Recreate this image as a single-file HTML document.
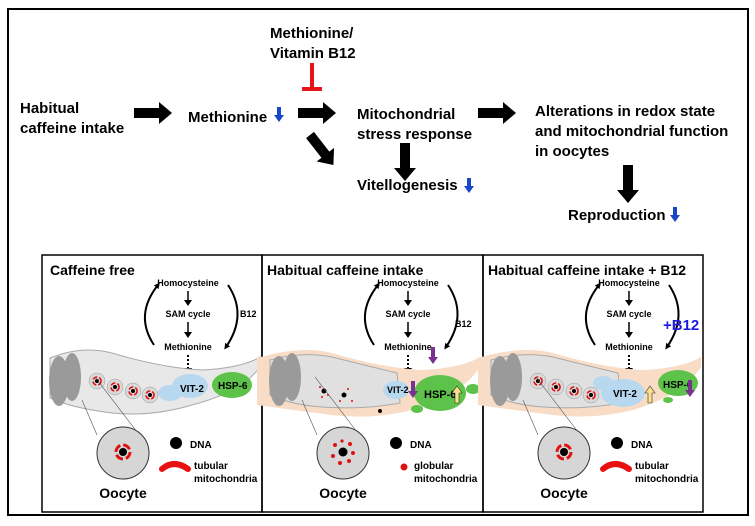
<!DOCTYPE html>
<html><head><style>
body{margin:0;background:#fff}
svg{display:block;font-family:"Liberation Sans",Arial,sans-serif;font-weight:bold}
</style></head><body>
<svg width="755" height="526" viewBox="0 0 755 526" xmlns="http://www.w3.org/2000/svg">
<defs>
<marker id="ah" markerWidth="6" markerHeight="6" refX="3" refY="3" orient="auto" markerUnits="userSpaceOnUse"><path d="M0,0L6,3L0,6z" fill="#000"/></marker>
<g id="fat">
<path d="M0,-5H25V-11L38,0L25,11V5H0z" fill="#000"/>
</g>
<g id="cycle">
<text x="146" y="31" font-size="9" text-anchor="middle">Homocysteine</text>
<text x="146" y="62" font-size="9" text-anchor="middle">SAM cycle</text>
<text x="146" y="95" font-size="9" text-anchor="middle">Methionine</text>
<path d="M146,36V46M146,67V78" stroke="#000" stroke-width="1.5"/>
<path d="M142,45L146,51L150,45zM142,77L146,83L150,77z" fill="#000"/>
<path d="M112,90 Q92,60 116,30" fill="none" stroke="#000" stroke-width="2" marker-end="url(#ah)"/>
<path d="M186,30 Q206,60 184,92" fill="none" stroke="#000" stroke-width="2" marker-end="url(#ah)"/>
<path d="M146,100V114" stroke="#000" stroke-width="2" stroke-dasharray="2,2"/>
<path d="M142,113L146,119L150,113z" fill="#000"/>
</g>
<g id="cell">
<circle cx="0" cy="0" r="8" fill="#d8d8d8" stroke="#999" stroke-width="0.5"/>
<circle cx="0" cy="0" r="2" fill="#000"/>
</g>
<g id="oocyte">
<line x1="40" y1="145" x2="55" y2="180" stroke="#555" stroke-width="0.6"/>
<line x1="53" y1="122" x2="105" y2="190" stroke="#555" stroke-width="0.6"/>
<circle cx="81" cy="198" r="26" fill="#d6d6d6" stroke="#333" stroke-width="1"/>
<text x="81" y="243" font-size="14" text-anchor="middle">Oocyte</text>
<circle cx="134" cy="188" r="6" fill="#000"/>
<text x="148" y="193" font-size="10">DNA</text>
</g>
</defs>

<rect x="8" y="9" width="740" height="506" fill="none" stroke="#000" stroke-width="2"/>

<g font-size="15">
<text x="20" y="113">Habitual</text>
<text x="20" y="133">caffeine intake</text>
<text x="188" y="122">Methionine</text>
<text x="270" y="38">Methionine/</text>
<text x="270" y="58">Vitamin B12</text>
<text x="357" y="119">Mitochondrial</text>
<text x="357" y="139">stress response</text>
<text x="357" y="190">Vitellogenesis</text>
<text x="535" y="116">Alterations in redox state</text>
<text x="535" y="136">and mitochondrial function</text>
<text x="535" y="156">in oocytes</text>
<text x="568" y="220">Reproduction</text>
</g>
<g fill="#1946c8">
<path d="M277,107h4v8h3l-5,7l-5,-7h3z"/>
<path d="M467,178h4v8h3l-5,7l-5,-7h3z"/>
<path d="M673,207h4v8h3l-5,7l-5,-7h3z"/>
</g>
<use href="#fat" x="134" y="113"/>
<use href="#fat" x="298" y="113"/>
<use href="#fat" x="478" y="113"/>
<use href="#fat" transform="translate(405,143) rotate(90)"/>
<use href="#fat" transform="translate(628,165) rotate(90)"/>
<use href="#fat" transform="translate(310,135) rotate(52)"/>
<path d="M312,63V87M302,89H322" stroke="#e8141a" stroke-width="4" fill="none"/>

<g stroke="#000" stroke-width="1.5" fill="none">
<rect x="42" y="255" width="220" height="257"/>
<rect x="262" y="255" width="221" height="257"/>
<rect x="483" y="255" width="220" height="257"/>
</g>

<g transform="translate(42,255)">
<text x="8" y="20" font-size="14">Caffeine free</text>
<use href="#cycle"/>
<text x="198" y="62" font-size="9">B12</text>
<path d="M8,103 Q40,90 70,98 Q120,113 160,115 Q200,113 218,102 L218,112 Q200,137 150,150 Q110,162 70,158 Q30,153 8,143z" fill="#e8e8e8" stroke="#aaa"/>
<ellipse cx="17" cy="126" rx="10" ry="25" fill="#9a9a9a"/>
<ellipse cx="30" cy="122" rx="9" ry="24" fill="#9a9a9a"/>
<ellipse cx="148" cy="131" rx="18" ry="12" fill="#b8d8ef"/>
<ellipse cx="128" cy="138" rx="12" ry="8" fill="#b8d8ef"/>
<text x="138" y="137" font-size="10">VIT-2</text>
<ellipse cx="190" cy="130" rx="20" ry="13" fill="#5cc24a"/>
<text x="176" y="134" font-size="10">HSP-6</text>
<use href="#cell" x="55" y="126"/><use href="#cell" x="73" y="132"/><use href="#cell" x="91" y="136"/><use href="#cell" x="108" y="140"/>
<g fill="none" stroke="#e01010" stroke-width="1.6"><circle cx="55" cy="126" r="4" stroke-dasharray="5,2"/><circle cx="73" cy="132" r="4" stroke-dasharray="5,2"/><circle cx="91" cy="136" r="4" stroke-dasharray="5,2"/><circle cx="108" cy="140" r="4" stroke-dasharray="5,2"/></g>
<use href="#oocyte"/>
<circle cx="81" cy="197" r="7" fill="none" stroke="#e01010" stroke-width="3" stroke-dasharray="8,3"/>
<circle cx="81" cy="197" r="4" fill="#000"/>
<path d="M120,214 Q132,204 146,214" fill="none" stroke="#e81010" stroke-width="6" stroke-linecap="round"/>
<text x="152" y="214" font-size="10">tubular</text>
<text x="152" y="227" font-size="10">mitochondria</text>
</g>

<g transform="translate(262,255)">
<text x="5" y="20" font-size="14">Habitual caffeine intake</text>
<use href="#cycle"/>
<text x="193" y="72" font-size="9">B12</text>
<path d="M-5,103 Q40,90 70,98 Q120,113 160,115 Q200,113 218,102 L218,112 Q200,140 150,155 Q110,165 70,160 Q30,155 -5,150z" fill="#f8dcc6"/>
<path d="M8,105 Q40,96 70,102 Q110,112 135,118 L138,148 Q100,155 60,152 Q30,150 8,140z" fill="#e0e0e0" stroke="#aaa"/>
<ellipse cx="17" cy="126" rx="10" ry="25" fill="#9a9a9a"/>
<ellipse cx="30" cy="122" rx="9" ry="24" fill="#9a9a9a"/>
<ellipse cx="134" cy="135" rx="13" ry="9" fill="#b8d8ef"/>
<text x="125" y="138" font-size="9">VIT-2</text>
<ellipse cx="178" cy="138" rx="26" ry="18" fill="#5cc24a"/>
<ellipse cx="211" cy="134" rx="7" ry="5" fill="#5cc24a"/>
<ellipse cx="155" cy="154" rx="6" ry="4" fill="#5cc24a"/>
<text x="162" y="143" font-size="11">HSP-6</text>
<path d="M193,148v-10h-3l5,-7l5,7h-3v10z" fill="#ffe08a" stroke="#333" stroke-width="0.6"/>
<path d="M149,126v10h-3l5,7l5,-7h-3v-10z" fill="#7a3290"/>
<path d="M169,92v10h-3l5,7l5,-7h-3v-10z" fill="#7a3290"/>
<circle cx="62" cy="136" r="2.5" fill="#000"/><circle cx="82" cy="140" r="2.5" fill="#000"/><circle cx="118" cy="156" r="2" fill="#000"/>
<g fill="#e01010"><circle cx="58" cy="132" r="1"/><circle cx="66" cy="140" r="1"/><circle cx="60" cy="142" r="1"/><circle cx="86" cy="134" r="1"/><circle cx="78" cy="146" r="1"/><circle cx="90" cy="146" r="1"/></g>
<use href="#oocyte"/>
<circle cx="81" cy="197" r="4.5" fill="#000"/>
<g fill="#e01010"><circle cx="73" cy="190" r="2"/><circle cx="88" cy="189" r="2"/><circle cx="91" cy="198" r="2"/><circle cx="87" cy="206" r="2"/><circle cx="78" cy="208" r="2"/><circle cx="71" cy="201" r="2"/><circle cx="80" cy="186" r="1.6"/></g>
<circle cx="142" cy="212" r="3.5" fill="#e01010"/>
<text x="152" y="214" font-size="10">globular</text>
<text x="152" y="227" font-size="10">mitochondria</text>
</g>

<g transform="translate(483,255)">
<text x="5" y="20" font-size="14">Habitual caffeine intake + B12</text>
<use href="#cycle"/>
<text x="180" y="75" font-size="15" fill="#1c1ce0">+B12</text>
<path d="M-5,103 Q40,90 70,98 Q120,113 160,115 Q200,113 218,102 L218,112 Q200,140 150,155 Q110,165 70,160 Q30,155 -5,150z" fill="#f8dcc6"/>
<path d="M8,105 Q40,96 70,102 Q110,112 135,118 L138,148 Q100,155 60,152 Q30,150 8,140z" fill="#e0e0e0" stroke="#aaa"/>
<ellipse cx="17" cy="126" rx="10" ry="25" fill="#9a9a9a"/>
<ellipse cx="30" cy="122" rx="9" ry="24" fill="#9a9a9a"/>
<ellipse cx="140" cy="138" rx="22" ry="14" fill="#b8d8ef"/>
<ellipse cx="120" cy="128" rx="10" ry="7" fill="#b8d8ef"/>
<text x="130" y="142" font-size="10">VIT-2</text>
<path d="M165,148v-10h-3l5,-7l5,7h-3v10z" fill="#ffe08a" stroke="#333" stroke-width="0.6"/>
<ellipse cx="195" cy="128" rx="20" ry="13" fill="#5cc24a"/>
<ellipse cx="185" cy="145" rx="5" ry="3" fill="#5cc24a"/>
<text x="180" y="133" font-size="10">HSP-6</text>
<path d="M205,125v10h-3l5,7l5,-7h-3v-10z" fill="#7a3290"/>
<use href="#cell" x="55" y="126"/><use href="#cell" x="73" y="132"/><use href="#cell" x="91" y="136"/><use href="#cell" x="108" y="140"/>
<g fill="none" stroke="#e01010" stroke-width="1.6"><circle cx="55" cy="126" r="4" stroke-dasharray="5,2"/><circle cx="73" cy="132" r="4" stroke-dasharray="5,2"/><circle cx="91" cy="136" r="4" stroke-dasharray="5,2"/><circle cx="108" cy="140" r="4" stroke-dasharray="5,2"/></g>
<use href="#oocyte"/>
<circle cx="81" cy="197" r="7" fill="none" stroke="#e01010" stroke-width="3" stroke-dasharray="8,3"/>
<circle cx="81" cy="197" r="4" fill="#000"/>
<path d="M120,214 Q132,204 146,214" fill="none" stroke="#e81010" stroke-width="6" stroke-linecap="round"/>
<text x="152" y="214" font-size="10">tubular</text>
<text x="152" y="227" font-size="10">mitochondria</text>
</g>
</svg>
</body></html>
